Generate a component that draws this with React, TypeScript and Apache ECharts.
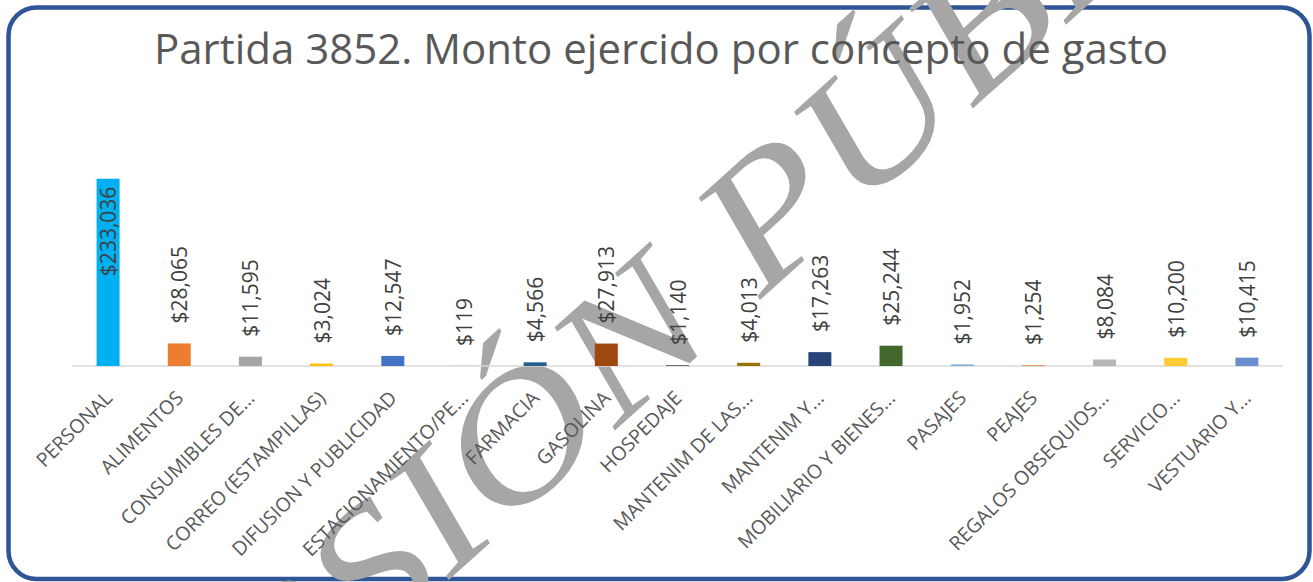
import React, { useEffect, useRef } from "react";
import * as echarts from "echarts";

const categories = [
  "PERSONAL",
  "ALIMENTOS",
  "CONSUMIBLES DE...",
  "CORREO (ESTAMPILLAS)",
  "DIFUSION Y PUBLICIDAD",
  "ESTACIONAMIENTO/PE...",
  "FARMACIA",
  "GASOLINA",
  "HOSPEDAJE",
  "MANTENIM DE LAS...",
  "MANTENIM Y...",
  "MOBILIARIO Y BIENES...",
  "PASAJES",
  "PEAJES",
  "REGALOS OBSEQUIOS...",
  "SERVICIO...",
  "VESTUARIO Y...",
];

const values = [
  233036, 28065, 11595, 3024, 12547, 119, 4566, 27913, 1140, 4013, 17263,
  25244, 1952, 1254, 8084, 10200, 10415,
];

const barColors = [
  "#00B0F0", "#ED7D31", "#A5A5A5", "#FFC000", "#4472C4", "#70AD47",
  "#255E91", "#9E480E", "#636363", "#997300", "#264478", "#43682B",
  "#7CAFDD", "#F1975A", "#B7B7B7", "#FFCD33", "#698ED0",
];

const titleText = "Partida 3852. Monto ejercido por concepto de gasto";
const watermarkText = "VERSIÓN PÚBLICA";

const fmt = (v: number) => "$" + v.toLocaleString("en-US");

export default function App() {
  const ref = useRef<HTMLDivElement>(null);
  useEffect(() => {
    if (!ref.current) return;
    const chart = echarts.init(ref.current, null, { renderer: "svg" });
    const font = "Open Sans";
    chart.setOption({
      animation: false,
      backgroundColor: "#ffffff",
      title: {
        text: titleText,
        left: 656,
        textAlign: "center",
        top: 21,
        textStyle: {
          fontFamily: font,
          fontSize: 42,
          fontWeight: "normal",
          color: "#595959",
        },
      },
      graphic: [
        {
          type: "rect",
          silent: true,
          z: -10,
          shape: { x: 8.5, y: 7.5, width: 1301, height: 571.5, r: 28 },
          style: { fill: "transparent", stroke: "#2F5597", lineWidth: 4.5 },
        },
        {
          type: "text",
          silent: true,
          z: -5,
          x: 705,
          y: 268,
          rotation: (42 * Math.PI) / 180,
          scaleX: 1.25,
          scaleY: 1.05,
          style: {
            text: watermarkText,
            font: 'italic 170px "Liberation Serif"',
            fill: "#a6a6a6",
            align: "center",
            verticalAlign: "middle",
          },
        },
      ],
      grid: { left: 72.5, right: 30.5, top: 165, bottom: 216, containLabel: false },
      xAxis: {
        type: "category",
        data: categories,
        z: 3,
        axisLine: { lineStyle: { color: "#d9d9d9", width: 1.5 } },
        axisTick: { show: false },
        axisLabel: {
          interval: 0,
          rotate: 45,
          margin: 28,
          fontFamily: font,
          fontSize: 19.5,
          color: "#595959",
        },
      },
      yAxis: {
        type: "value",
        min: 0,
        max: 250000,
        show: false,
        splitLine: { show: false },
      },
      series: [
        {
          type: "bar",
          z: 4,
          barWidth: 23,
          data: values.map((v, i) => ({
            value: v,
            itemStyle: { color: barColors[i] },
            label:
              i === 0
                ? {
                    position: "insideTop",
                    align: "right",
                    distance: 8,
                  }
                : {},
          })),
          label: {
            show: true,
            position: "top",
            rotate: 90,
            align: "left",
            verticalAlign: "middle",
            distance: 20,
            fontFamily: font,
            fontSize: 21,
            color: "#404040",
            formatter: (p: any) => fmt(p.value),
          },
        },
      ],
    });
    return () => chart.dispose();
  }, []);
  return (
    <div
      ref={ref}
      style={{ position: "absolute", left: 0, top: 0, width: 1313, height: 582 }}
    />
  );
}
